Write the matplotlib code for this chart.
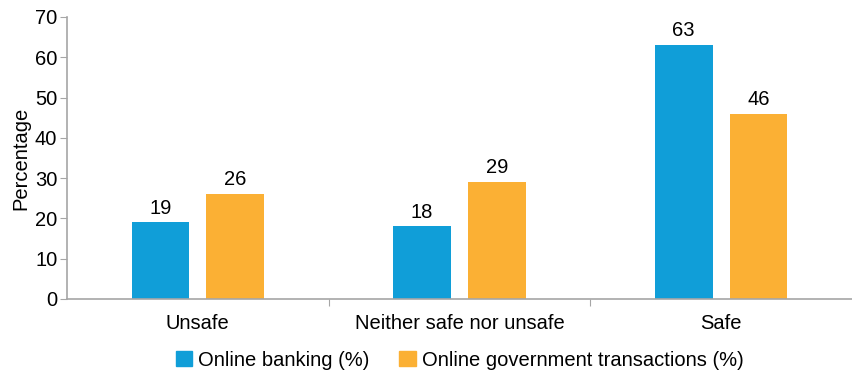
import numpy as np
import matplotlib.pyplot as plt
from matplotlib.patches import Patch

categories = ['Unsafe', 'Neither safe nor unsafe', 'Safe']
banking = [19, 18, 63]
government = [26, 29, 46]
series_labels = ['Online banking (%)', 'Online government transactions (%)']

BLUE = '#109ed8'
ORANGE = '#fbb034'
GREY = '#a6a6a6'

plt.rcParams['font.family'] = ['Liberation Sans', 'DejaVu Sans']

fig = plt.figure(figsize=(8.52, 3.77), dpi=100)
left = 67 / 852
ax = fig.add_axes([left, 1 - 299 / 377, 1 - left, (299 - 17) / 377])

x = np.arange(len(categories))
w = 0.22
b1 = ax.bar(x - 0.143, banking, w, color=BLUE)
b2 = ax.bar(x + 0.143, government, w, color=ORANGE)

for bars in (b1, b2):
    for r in bars:
        ax.text(r.get_x() + r.get_width() / 2, r.get_height() + 1.2, f'{int(r.get_height())}',
                ha='center', va='bottom', fontsize=14.5)

ax.set_xlim(-0.5, 2.5)
ax.set_ylim(0, 70)
ax.set_yticks(range(0, 71, 10))
ax.tick_params(axis='y', labelsize=14.5, length=5, color=GREY, pad=2)

ax.set_xticks([0.5, 1.5])
ax.set_xticklabels([])
ax.set_xticks(x, minor=True)
ax.set_xticklabels(categories, minor=True, fontsize=14.5)
ax.tick_params(axis='x', which='major', length=5, color=GREY)
ax.tick_params(axis='x', which='minor', length=0, pad=11)

for s in ['top', 'right']:
    ax.spines[s].set_visible(False)
for s in ['left', 'bottom']:
    ax.spines[s].set_color(GREY)
    ax.spines[s].set_linewidth(1.2)

ax.set_ylabel('Percentage', fontsize=14.5, labelpad=3)

handles = [Patch(color=BLUE), Patch(color=ORANGE)]
fig.legend(handles, series_labels, loc='center', bbox_to_anchor=(left + (1 - left) / 2, 1 - 360 / 377),
           ncol=2, frameon=False, fontsize=14.5, handlelength=0.8, handleheight=0.8,
           handletextpad=0.3, columnspacing=1.5)

fig.savefig('out.png', dpi=100)
